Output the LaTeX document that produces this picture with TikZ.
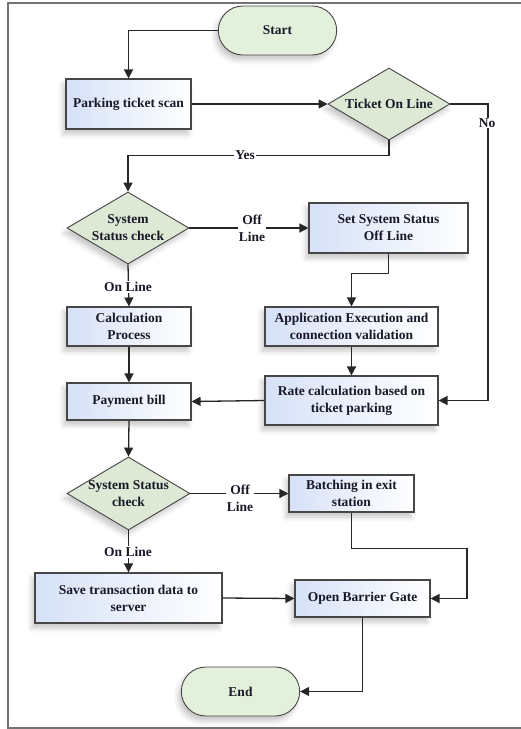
\documentclass[tikz,border=0pt]{standalone}
\usepackage{fontspec}
\setmainfont{Liberation Serif}
\usetikzlibrary{shapes.geometric,shapes.misc,arrows.meta,shadows.blur,calc}
\definecolor{boxblue}{RGB}{214,225,247}
\definecolor{diagreen}{RGB}{221,233,212}
\definecolor{termgreen}{RGB}{227,240,220}
\definecolor{edgecol}{RGB}{70,70,70}
\definecolor{txt}{RGB}{25,25,40}
\begin{document}
\begin{tikzpicture}[x=1pt,y=-1pt,
  every node/.style={font=\fontsize{13.5}{17}\selectfont\bfseries, text=txt},
  sh/.style={blur shadow={shadow xshift=-3pt, shadow yshift=-5pt, shadow blur radius=5pt, shadow opacity=22}},
  procbox/.style={rectangle, draw=edgecol, line width=1.1pt, left color=boxblue, right color=white, align=center, inner sep=2pt, sh},
  decide/.style={diamond, draw=edgecol, line width=0.9pt, fill=diagreen, inner sep=0pt, sh},
  dtext/.style={align=center, inner sep=0pt},
  term/.style={rounded rectangle, draw=edgecol, line width=0.9pt, fill=termgreen, minimum width=125pt, minimum height=49pt, sh},
  conn/.style={line width=1.3pt, draw=black!85, -{Triangle[length=9pt,width=9pt]}},
  lab/.style={fill=white, inner sep=1pt, align=center}
]
\useasboundingbox (0,0) rectangle (521,729);
% frame
\draw[line width=1.4pt, draw=black!55] (521,3) -- (8,3) -- (8,728) -- (521,728);

% nodes
\node[term] (start) at (277.5,30.5) {Start};
\node[procbox, minimum width=125pt, minimum height=50pt] (park) at (128.5,104) {Parking ticket scan};
\node[decide, minimum width=122pt, minimum height=72pt] (tick) at (389,104) {};
\node[dtext] (tickt) at (tick.center) {Ticket On Line};
\node[decide, minimum width=122pt, minimum height=72pt] (sys1) at (128,228) {};
\node[dtext] (sys1t) at (sys1.center) {System\\Status check};
\node[procbox, minimum width=159pt, minimum height=50pt] (set) at (388.5,228) {Set System Status\\Off Line};
\node[procbox, minimum width=173pt, minimum height=39pt] (app) at (351.5,326.5) {Application Execution and\\connection validation};
\node[procbox, minimum width=124pt, minimum height=39pt] (calc) at (129,326.5) {Calculation\\Process};
\node[procbox, minimum width=173pt, minimum height=49pt] (rate) at (351.5,400.5) {Rate calculation based on\\ticket parking};
\node[procbox, minimum width=124pt, minimum height=37pt] (pay) at (129,401.5) {Payment bill};
\node[decide, minimum width=123pt, minimum height=73pt] (sys2) at (128.5,493.5) {};
\node[dtext] (sys2t) at (sys2.center) {System Status\\check};
\node[procbox, minimum width=125pt, minimum height=37pt] (batch) at (351.5,493.5) {Batching in exit\\station};
\node[procbox, minimum width=187pt, minimum height=50pt] (save) at (128.5,598) {Save transaction data to\\server};
\node[procbox, minimum width=135pt, minimum height=37pt] (open) at (362.5,598.5) {Open Barrier Gate};
\node[term] (end) at (240.5,691.5) {End};

% helper coordinates
\coordinate (nox) at (488,0);
\coordinate (bx) at (467,0);

% connectors
\draw[conn] (start.west) -| (park.north);
\draw[conn] (park.east) -- (tick.west);
\draw[conn] (tick.east) -- (tick.east -| nox) -- (nox |- rate.east) -- (rate.east);
\node[lab] (nol) at (487,123) {No};
\draw[conn] (tick.south) -- ++(0,15) -| (sys1.north);
\node[lab] (yesl) at (245,155) {Yes};
\draw[conn] (sys1.east) -- (set.west);
\node[lab] (off1) at (252,228) {Off\\Line};
\draw[conn] (set.south) -- ++(0,20) -| (app.north);
\draw[conn] (sys1.south) -- (calc.north);
\node[lab] (on1) at (128,287) {On Line};
\draw[conn] (app.south) -- (rate.north);
\draw[conn] (calc.south) -- (pay.north);
\draw[conn] (rate.west) -- (pay.east);
\draw[conn] (pay.south) -- (sys2.north);
\draw[conn] (sys2.east) -- (batch.west);
\node[lab] (off2) at (240,498) {Off\\Line};
\draw[conn] (sys2.south) -- (save.north);
\node[lab] (on2) at (128,552) {On Line};
\draw[conn] (batch.south) -- ++(0,36) -| (bx |- open.east) -- (open.east);
\draw[conn] (save.east) -- (open.west);
\draw[conn] (open.south) |- (end.east);
\end{tikzpicture}
\end{document}
